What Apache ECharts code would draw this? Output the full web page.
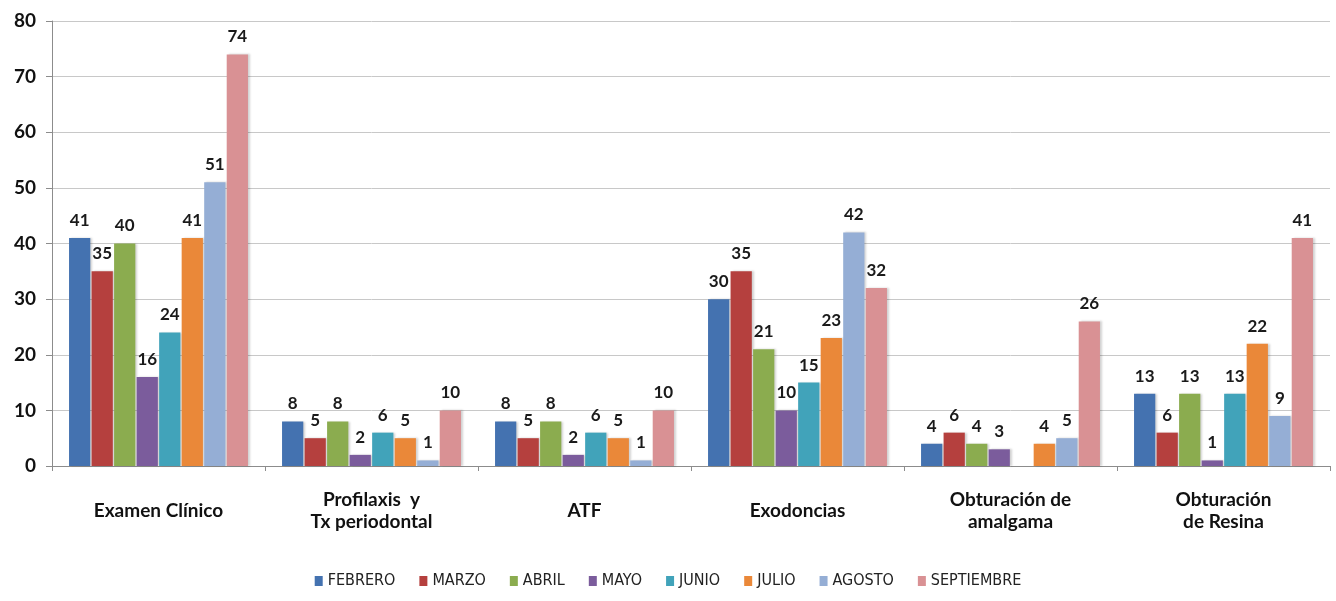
<!DOCTYPE html>
<html>
<head>
<meta charset="utf-8">
<script src="https://cdn.jsdelivr.net/npm/echarts@6/dist/echarts.min.js"></script>
<style>
  html, body { margin: 0; padding: 0; background: #fff; }
  #chart { width: 1336px; height: 601px; }
</style>
</head>
<body>
<div id="chart"></div>
<script>
// categorías del eje x
const categories = ['Examen Clínico', 'Profilaxis  y\nTx periodontal', 'ATF', 'Exodoncias', 'Obturación de\namalgama', 'Obturación\nde Resina'];
const yTicks = [0, 10, 20, 30, 40, 50, 60, 70, 80];

// valores por mes
const febrero    = [41, 8, 8, 30, 4, 13];
const marzo      = [35, 5, 5, 35, 6, 6];
const abril      = [40, 8, 8, 21, 4, 13];
const mayo       = [16, 2, 2, 10, 3, 1];
const junio      = [24, 6, 6, 15, null, 13];
const julio      = [41, 5, 5, 23, 4, 22];
const agosto     = [51, 1, 1, 42, 5, 9];
const septiembre = [74, 10, 10, 32, 26, 41];

const months = ['FEBRERO', 'MARZO', 'ABRIL', 'MAYO', 'JUNIO', 'JULIO', 'AGOSTO', 'SEPTIEMBRE'];
const monthData = [febrero, marzo, abril, mayo, junio, julio, agosto, septiembre];
const colors = ['#4472b0', '#b5403e', '#8bac4f', '#7b5c9c', '#41a3ba', '#ea8839', '#95aed5', '#d99194'];

const chart = echarts.init(document.getElementById('chart'));

const series = months.map(function (m, i) {
  return {
    name: m,
    type: 'bar',
    data: monthData[i],
    barGap: '6%',
    barCategoryGap: '16%',
    itemStyle: {
      color: colors[i],
      shadowColor: 'rgba(0,0,0,0.18)',
      shadowOffsetX: 2,
      shadowOffsetY: 0,
      shadowBlur: 2
    },
    label: {
      show: true,
      position: 'top',
      distance: 9,
      color: '#1a1a1a',
      fontFamily: 'Lato',
      fontSize: 17,
      fontWeight: 'bold'
    }
  };
});

chart.setOption({
  animation: false,
  grid: { left: 52, right: 6, top: 21, bottom: 135 },
  legend: {
    data: months,
    bottom: 7,
    left: 'center',
    itemWidth: 8,
    itemHeight: 10,
    itemGap: 24,
    icon: 'rect',
    textStyle: { fontFamily: 'DejaVu Sans Condensed', fontSize: 16, color: '#222' }
  },
  xAxis: {
    type: 'category',
    data: categories,
    axisLine: { lineStyle: { color: '#8c8c8c' } },
    axisTick: { show: true, length: 5, lineStyle: { color: '#8c8c8c' } },
    axisLabel: {
      color: '#111',
      fontFamily: 'Lato',
      fontWeight: 'bold',
      fontSize: 19,
      lineHeight: 22,
      verticalAlign: 'middle',
      margin: 45
    }
  },
  yAxis: {
    type: 'value',
    min: yTicks[0],
    max: yTicks[yTicks.length - 1],
    interval: 10,
    axisLine: { show: true, lineStyle: { color: '#8c8c8c' } },
    axisTick: { show: true, length: 6, lineStyle: { color: '#8c8c8c' } },
    splitLine: { lineStyle: { color: '#c8c8c8' } },
    axisLabel: { color: '#111', fontFamily: 'Lato', fontSize: 19, fontWeight: 'bold', margin: 16 }
  },
  series: series
});
</script>
</body>
</html>
